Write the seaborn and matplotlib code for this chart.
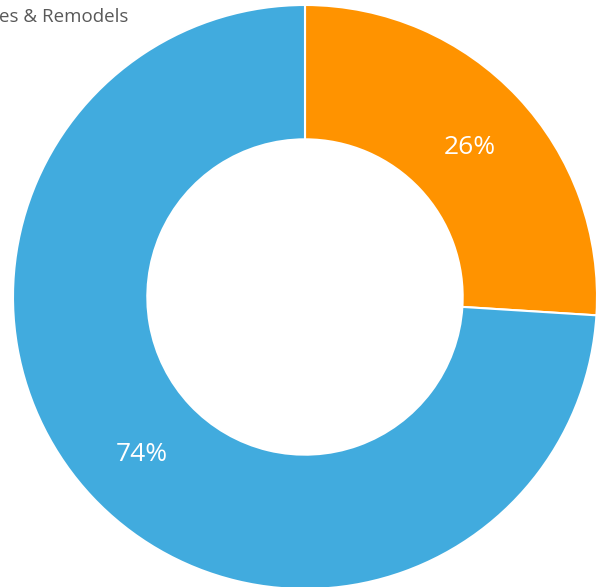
import matplotlib
matplotlib.use("Agg")
import matplotlib.pyplot as plt
import seaborn as sns

categories = ["Additions & Remodels", "Other"]
values = [26, 74]
colors = ["#FF9300", "#41ABDE"]
legend_text = "es & Remodels"

sns.set_theme(style="white")
plt.rcParams['font.family'] = ['Open Sans', 'DejaVu Sans']

fig = plt.figure(figsize=(5.98, 5.87), dpi=100)
ax = fig.add_axes([0, 0, 1, 1])

W, H = 598, 587
cx, cy, R = 305, H - 297, 292
wedges, texts, autotexts = ax.pie(
    values, colors=colors, startangle=90, counterclock=False,
    center=(cx, cy), radius=R, autopct='%d%%', pctdistance=0.77,
    wedgeprops=dict(width=R * 0.46, edgecolor='white', linewidth=1.5),
    textprops=dict(color='white', fontsize=19), frame=True)
for t in autotexts:
    x, y = t.get_position()
    t.set_position((x + 1, y - 4))

ax.set_xlim(0, W)
ax.set_ylim(0, H)
ax.set_aspect('equal')
ax.axis('off')
ax.text(-1, H - 17, legend_text, color='#595959', fontsize=13.5, va='center', ha='left')

fig.savefig("out.png", dpi=100)
